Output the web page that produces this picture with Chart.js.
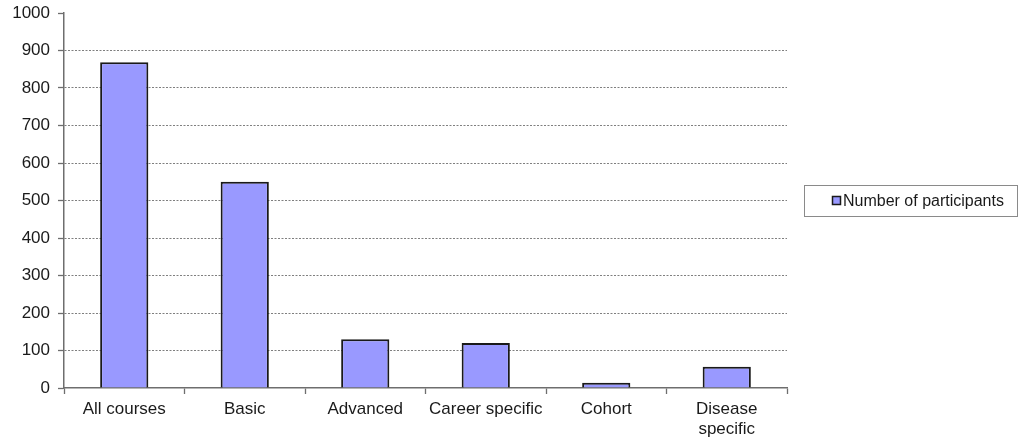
<!DOCTYPE html>
<html>
<head>
<meta charset="utf-8">
<script src="https://cdn.jsdelivr.net/npm/chart.js@4.4.1/dist/chart.umd.min.js"></script>
<style>
  html, body { margin: 0; padding: 0; background: #ffffff; }
  #wrap { width: 1019px; height: 439px; position: relative; }
</style>
</head>
<body>
<div id="wrap"><canvas id="c" width="1019" height="439"></canvas></div>
<script>
// Course categories and participant counts
const categories = ["All courses", "Basic", "Advanced", "Career specific", "Cohort", ["Disease", "specific"]];
const participants = [869, 550, 130, 120, 14, 57];
const seriesLabel = "Number of participants";
const yTicks = [0, 100, 200, 300, 400, 500, 600, 700, 800, 900, 1000];

const FONT = "'Liberation Sans', Arial, sans-serif";
const BAR_FILL = "#9999ff";
const BAR_EDGE = "#1a1a1a";

// Boxed legend drawn to the right of the plot
const boxLegend = {
  id: "boxLegend",
  afterDraw(chart) {
    const ctx = chart.ctx;
    const ds = chart.data.datasets[0];
    const x = 804.5, y = 185.5, w = 213, h = 31;
    ctx.save();
    ctx.fillStyle = "#ffffff";
    ctx.fillRect(x, y, w, h);
    ctx.strokeStyle = "#8a8a8a";
    ctx.lineWidth = 1;
    ctx.strokeRect(x, y, w, h);
    ctx.fillStyle = ds.backgroundColor;
    ctx.fillRect(833, 197, 7, 7);
    ctx.strokeStyle = ds.borderColor;
    ctx.lineWidth = 1.5;
    ctx.strokeRect(832.5, 196.5, 8, 8);
    ctx.fillStyle = "#1a1a1a";
    ctx.font = "16px " + FONT;
    ctx.textBaseline = "middle";
    ctx.fillText(ds.label, 843, 201.5);
    ctx.restore();
  }
};

new Chart(document.getElementById("c"), {
  type: "bar",
  data: {
    labels: categories,
    datasets: [{
      label: seriesLabel,
      data: participants,
      backgroundColor: BAR_FILL,
      borderColor: BAR_EDGE,
      borderWidth: 2,
      categoryPercentage: 0.8,
      barPercentage: 0.5
    }]
  },
  options: {
    responsive: false,
    animation: false,
    devicePixelRatio: 1,
    layout: { padding: { left: 0, right: 232, top: 13, bottom: 0 } },
    plugins: { legend: { display: false }, tooltip: { enabled: false } },
    scales: {
      x: {
        offset: true,
        grid: {
          offset: true,
          drawOnChartArea: false,
          drawTicks: true,
          tickLength: 6,
          tickColor: "#6e6e6e",
          tickWidth: 1.3
        },
        border: { display: true, color: "#6e6e6e", width: 1.5 },
        ticks: {
          color: "#1a1a1a",
          font: { family: FONT, size: 17 },
          padding: 5,
          maxRotation: 0,
          autoSkip: false
        },
        afterFit(scale) { scale.height = 51; scale.paddingLeft = 0; scale.paddingRight = 0; }
      },
      y: {
        min: 0,
        max: 1000,
        afterBuildTicks(scale) { scale.ticks = yTicks.map(v => ({ value: v })); },
        grid: {
          color: ctx => (ctx.tick && (ctx.tick.value === 1000 || ctx.tick.value === 0)) ? "rgba(0,0,0,0)" : "#7f7f7f",
          lineWidth: 1,
          drawTicks: true,
          tickLength: 6,
          tickColor: "#6e6e6e",
          tickWidth: 1.3,
          tickBorderDash: [0, 0]
        },
        border: { display: true, color: "#6e6e6e", width: 1.5, dash: [2, 1.5] },
        ticks: {
          color: "#1a1a1a",
          font: { family: FONT, size: 17 },
          padding: 8,
          callback: v => String(v)
        },
        afterFit(scale) { scale.width = 64; scale.paddingTop = 0; scale.paddingBottom = 0; }
      }
    }
  },
  plugins: [boxLegend]
});
</script>
</body>
</html>
